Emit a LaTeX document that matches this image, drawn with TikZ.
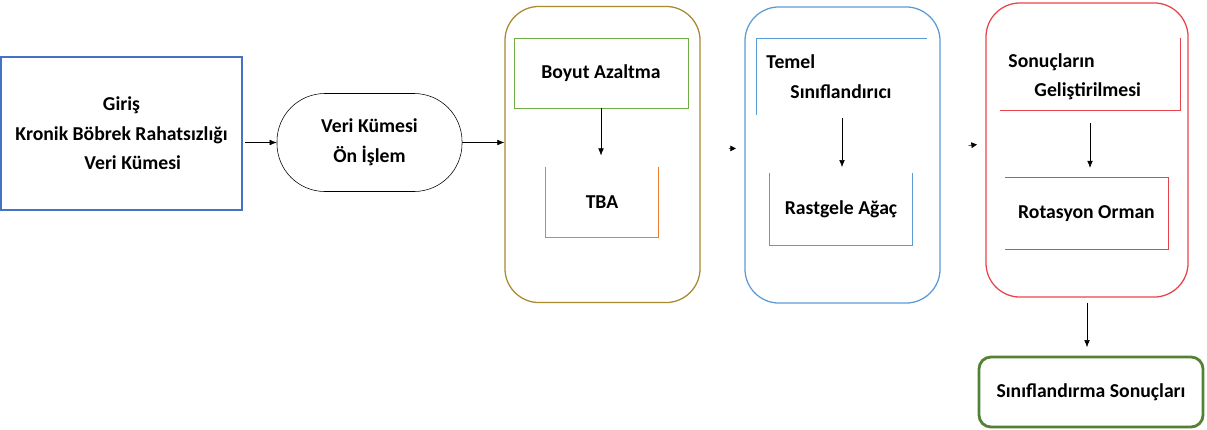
\documentclass[tikz,border=0pt]{standalone}
\usepackage{fontspec}
\setmainfont{Carlito}
\usetikzlibrary{positioning, arrows.meta}
\definecolor{cgiris}{HTML}{4472C4}
\definecolor{caltin}{HTML}{A8892E}
\definecolor{cmavi}{HTML}{5B9BD5}
\definecolor{ckirmizi}{HTML}{E8434B}
\definecolor{cyesil}{HTML}{70AD47}
\definecolor{cturuncu}{HTML}{ED7D31}
\definecolor{ckoyu}{HTML}{548235}

\begin{document}
\begin{tikzpicture}[x=0.025cm, y=-0.025cm,
    yazi/.style={font=\fontsize{14}{21}\selectfont\bfseries, align=center},
    grup/.style={draw, line width=0.9pt, rounded corners=0.85cm, minimum width=4.875cm, minimum height=7.4cm},
    ok/.style={-{Latex[length=5pt,width=4pt]}, thin},
    uc/.style={-{Triangle[length=4pt,width=4pt]}, thin}]

  \useasboundingbox (0,0) rectangle (1207,429);

  % --- giris ve on islem ---
  \node[yazi, draw=cgiris, thick, minimum width=6.025cm, minimum height=3.825cm] (giris) at (121.5,133.5)
       {Giriş\\Kronik Böbrek Rahatsızlığı\\\hspace*{16pt}Veri Kümesi};
  \node[yazi, draw, thin, rounded corners=1.2cm, minimum width=4.625cm, minimum height=2.45cm] (onislem) at (369.5,142.5)
       {Veri Kümesi\\Ön İşlem};
  \draw[ok, shorten <=2pt] (giris.east |- onislem.west) -- (onislem.west);

  % --- boyut azaltma ---
  \node[grup, draw=caltin] (grup1) at (602.5,154.5) {};
  \draw[ok] (onislem.east) -- (onislem.east -| grup1.west);
  \node[yazi, draw=cyesil, minimum width=4.35cm, minimum height=1.75cm] (boyut) at (601,73) {Boyut Azaltma};
  \node[yazi, minimum width=2.8cm, minimum height=1.75cm] (tba) at (602,202) {TBA};
  \draw[cturuncu] (tba.north west) -- (tba.south west) -- (tba.south east) -- (tba.north east);
  \draw[ok, shorten >=8pt] (boyut.south) -- (boyut.south |- tba.north);

  % --- temel siniflandirici ---
  \node[grup, draw=cmavi] (grup2) at (842.5,155) {};
  \draw[uc, shorten <=20pt, shorten >=6pt] ([yshift=0.16cm]grup1.east) -- ([yshift=0.16cm]grup2.west);
  \node[minimum width=4.25cm, minimum height=1.9cm] (temel) at (842,77) {};
  \draw[cmavi] (temel.south west) -- (temel.north west) -- (temel.north east);
  \node[yazi, anchor=west] (temel1) at (761.5,62) {Temel};
  \node[yazi, anchor=west] (temel2) at (785.5,92) {Sınıflandırıcı};
  \node[yazi, minimum width=3.55cm, minimum height=1.8cm] (rastgele) at (841,209) {Rastgele Ağaç};
  \draw[cmavi] (rastgele.north west) -- (rastgele.south west) -- (rastgele.south east) -- (rastgele.north east);
  \draw[ok, shorten <=2pt, shorten >=4pt] (temel.south) -- (temel.south |- rastgele.north);

  % --- sonuclarin gelistirilmesi ---
  \node[grup, draw=ckirmizi, minimum width=5.05cm, minimum height=7.35cm] (grup3) at (1087,150) {};
  \draw[uc, shorten <=20pt, shorten >=6pt] ([yshift=0.16cm]grup2.east) -- ([yshift=0.16cm]grup3.west);
  \node[minimum width=4.5cm, minimum height=1.8cm] (gelis) at (1090,74) {};
  \draw[ckirmizi] (gelis.north east) -- (gelis.south east) -- (gelis.south west);
  \node[yazi, anchor=west] (gelis1) at (1003.5,62) {Sonuçların};
  \node[yazi, anchor=west] (gelis2) at (1029.5,91) {Geliştirilmesi};
  \node[yazi, minimum width=4.075cm, minimum height=1.775cm] (rotasyon) at (1086.5,213.5) {Rotasyon Orman};
  \draw[ckirmizi] (rotasyon.north west) -- (rotasyon.north east) -- (rotasyon.south east) -- (rotasyon.south west);
  \draw[ok, shorten <=9pt, shorten >=7pt] (gelis.south) -- (gelis.south |- rotasyon.north);

  % --- sonuc ---
  \node[yazi, draw=ckoyu, line width=2pt, rounded corners=0.3cm, minimum width=5.6cm, minimum height=1.75cm] (sonuc) at (1091,392)
       {Sınıflandırma Sonuçları};
  \draw[ok, shorten <=4pt, shorten >=6pt] (grup3.south) -- (grup3.south |- sonuc.north);
\end{tikzpicture}
\end{document}
